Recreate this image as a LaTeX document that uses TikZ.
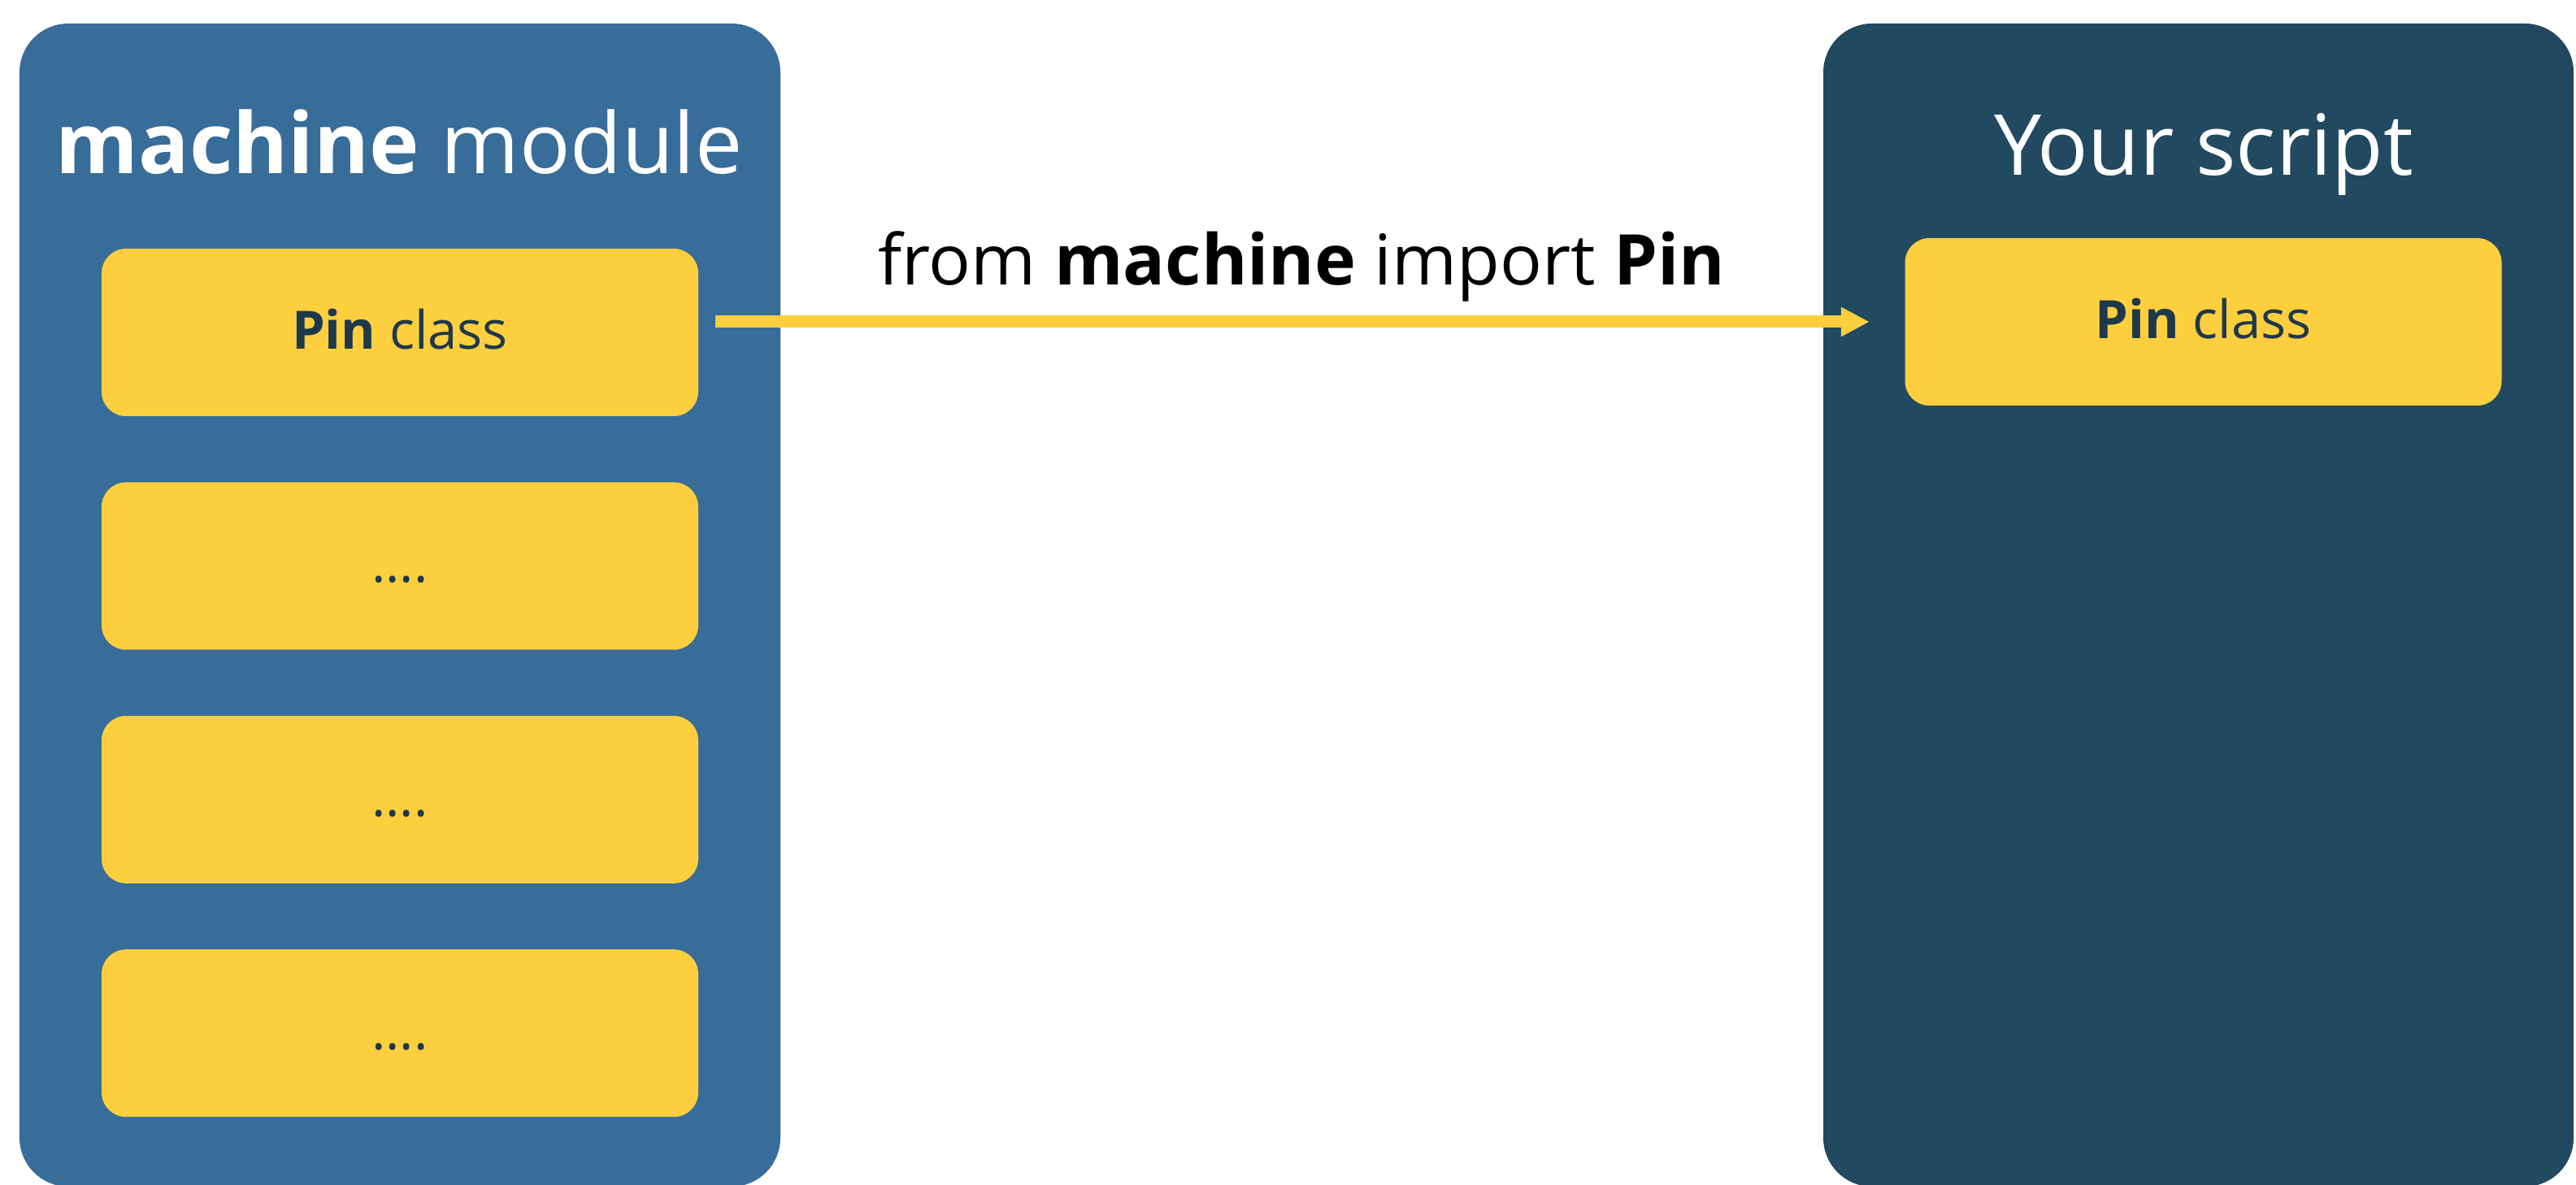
\documentclass[tikz,border=0pt]{standalone}
\usepackage{fontspec}
\setmainfont{Open Sans}
\usetikzlibrary{positioning,arrows.meta}

\definecolor{modblue}{RGB}{56,108,153}
\definecolor{scriptblue}{RGB}{33,73,95}
\definecolor{pinyellow}{RGB}{253,207,62}
\definecolor{pinnavy}{RGB}{30,56,76}

\tikzset{
  panel/.style={rounded corners=0.6cm, minimum width=#1, minimum height=14.31cm, inner sep=0pt},
  classbox/.style={fill=pinyellow, rounded corners=0.3cm, minimum width=7.34cm, minimum height=2.06cm,
    inner sep=0pt, text height=12.5pt, text depth=1pt, text=pinnavy, font=\fontsize{18.5}{20}\selectfont},
  paneltitle/.style={anchor=base, text=white, font=\fontsize{29.5}{32}\selectfont},
}

\begin{document}
\begin{tikzpicture}

\useasboundingbox (0,0) rectangle (31.69,14.57);

\node[panel=9.36cm, fill=modblue] (module) at (4.92,7.125) {};
\node[panel=9.23cm, fill=scriptblue] (script) at (27.045,7.125) {};

\node[paneltitle] (moduletitle) at (4.91,12.43) {\textbf{machine} module};
\node[paneltitle] (scripttitle) at (27.11,12.41) {Your script};

\node[classbox] (pina) at (4.92,10.48) {\textbf{Pin} class};
\node[classbox, below=0.8cm of pina] (dotsa) {....};
\node[classbox, below=0.8cm of dotsa] (dotsb) {....};
\node[classbox, below=0.8cm of dotsb] (dotsc) {....};

\node[classbox] (pinb) at (27.105,10.61) {\textbf{Pin} class};

\draw[pinyellow, line width=0.15cm, -{Triangle[length=0.35cm,width=0.34cm]},
  shorten <=0.2cm, shorten >=0.43cm] (pina.east |- pinb.west) -- (pinb.west)
  node[midway, above=0.17cm, inner sep=0pt, text=black, font=\fontsize{24.5}{28}\selectfont] (importlabel)
  {from \textbf{machine} import \textbf{Pin}};

\end{tikzpicture}
\end{document}
